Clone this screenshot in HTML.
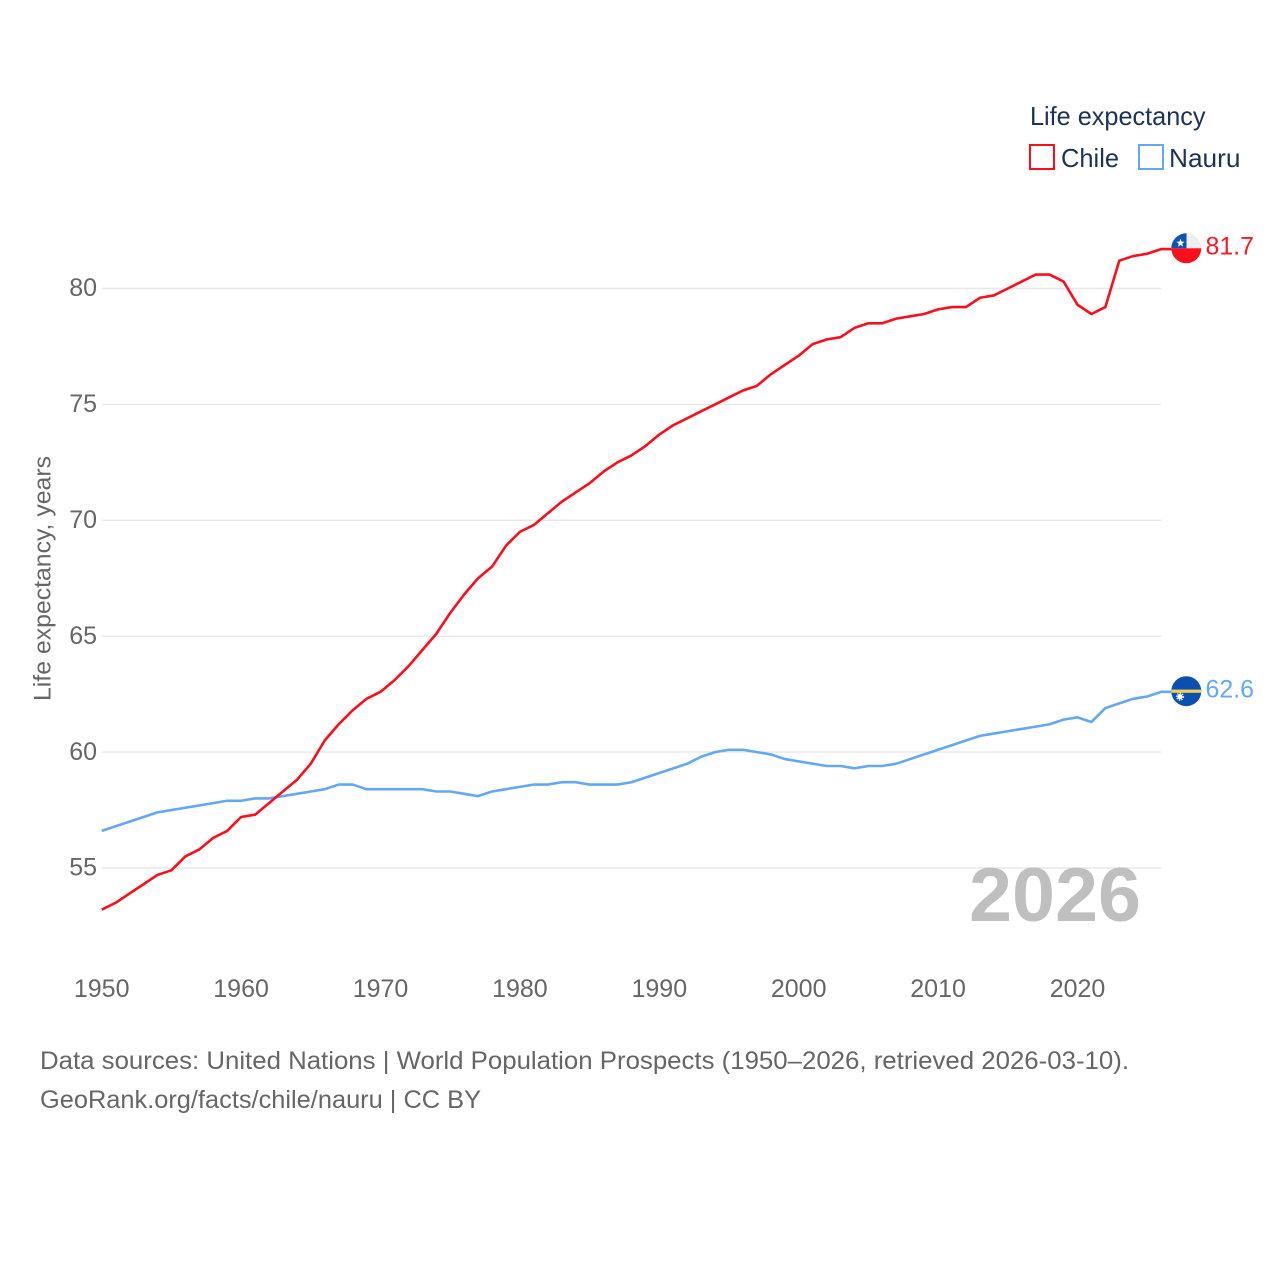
<!DOCTYPE html>
<html lang="en">
<head>
<meta charset="utf-8">
<title>Life expectancy: Chile and Nauru</title>
<style>
html,body{margin:0;padding:0;background:#fff;width:1280px;height:1280px;overflow:hidden}
svg{display:block}
text{font-family:"Liberation Sans",sans-serif}
</style>
</head>
<body>
<svg id="chart" width="1280" height="1280" viewBox="0 0 1280 1280" xmlns="http://www.w3.org/2000/svg">
  <defs>
    <clipPath id="flag-clip-chile"><circle cx="1186.3" cy="248.3" r="15"/></clipPath>
    <clipPath id="flag-clip-nauru"><circle cx="1186.3" cy="691.2" r="15"/></clipPath>
  </defs>
  <g id="grid"></g>
  <g id="yticks"></g>
  <g id="xticks"></g>
  <text transform="translate(50.5,701) rotate(-90)" font-size="24.5" fill="#666" textLength="245" lengthAdjust="spacingAndGlyphs">Life expectancy, years</text>
  <g id="series"></g>

  <g clip-path="url(#flag-clip-chile)">
    <rect x="1171" y="233" width="31" height="31" fill="#eeeeee"/>
    <rect x="1171" y="233" width="15.5" height="15.3" fill="#0b55b5"/>
    <rect x="1171" y="248.3" width="31" height="16" fill="#fb0f1c"/>
    <polygon points="1180.5,238.6 1181.6,241.6 1184.6,241.7 1182.2,243.6 1183,246.6 1180.5,244.9 1178,246.6 1178.8,243.6 1176.4,241.7 1179.4,241.6" fill="#fff"/>
  </g>
  <g clip-path="url(#flag-clip-nauru)">
    <rect x="1171" y="676" width="31" height="31" fill="#0b50b0"/>
    <rect x="1171" y="689.6" width="31" height="3.2" fill="#f5d04e"/>
    <circle cx="1180" cy="696.6" r="2.6" fill="#fff"/>
    <circle cx="1180" cy="696.6" r="3.4" fill="none" stroke="#fff" stroke-width="1.4" stroke-dasharray="1.3 1.3"/>
  </g>

  <text x="1205.5" y="254.5" font-size="25" fill="#fb1a22" textLength="48.5" lengthAdjust="spacingAndGlyphs">81.7</text>
  <text x="1205.5" y="697.5" font-size="25" fill="#63a9f2" textLength="48.5" lengthAdjust="spacingAndGlyphs">62.6</text>

  <text x="1030" y="125" font-size="26" fill="#1d3354" textLength="175.5" lengthAdjust="spacingAndGlyphs">Life expectancy</text>
  <rect x="1030" y="145" width="24" height="24" fill="none" stroke="#fb0f1c" stroke-width="2"/>
  <text x="1061" y="167" font-size="26" fill="#1d3354" textLength="58" lengthAdjust="spacingAndGlyphs">Chile</text>
  <rect x="1139" y="145" width="24" height="24" fill="none" stroke="#63a9f2" stroke-width="2"/>
  <text x="1169" y="167" font-size="26" fill="#1d3354" textLength="71.5" lengthAdjust="spacingAndGlyphs">Nauru</text>

  <text x="969" y="921" font-size="76" font-weight="700" fill="#bfbfbf" textLength="172" lengthAdjust="spacingAndGlyphs">2026</text>

  <text x="40" y="1069" font-size="25" fill="#666" textLength="1089" lengthAdjust="spacingAndGlyphs">Data sources: United Nations | World Population Prospects (1950–2026, retrieved 2026-03-10).</text>
  <text x="40" y="1108" font-size="25" fill="#666" textLength="441" lengthAdjust="spacingAndGlyphs">GeoRank.org/facts/chile/nauru | CC BY</text>
</svg>
<script>
const startYear = 1950;
const xTickYears = [1950, 1960, 1970, 1980, 1990, 2000, 2010, 2020];
const yTickValues = [55, 60, 65, 70, 75, 80];
const chileValues = [
  53.2,53.5,53.9,54.3,54.7,54.9,55.5,55.8,56.3,56.6,
  57.2,57.3,57.8,58.3,58.8,59.5,60.5,61.2,61.8,62.3,
  62.6,63.1,63.7,64.4,65.1,66.0,66.8,67.5,68.0,68.9,
  69.5,69.8,70.3,70.8,71.2,71.6,72.1,72.5,72.8,73.2,
  73.7,74.1,74.4,74.7,75.0,75.3,75.6,75.8,76.3,76.7,
  77.1,77.6,77.8,77.9,78.3,78.5,78.5,78.7,78.8,78.9,
  79.1,79.2,79.2,79.6,79.7,80.0,80.3,80.6,80.6,80.3,
  79.3,78.9,79.2,81.2,81.4,81.5,81.7
];
const nauruValues = [
  56.6,56.8,57.0,57.2,57.4,57.5,57.6,57.7,57.8,57.9,
  57.9,58.0,58.0,58.1,58.2,58.3,58.4,58.6,58.6,58.4,
  58.4,58.4,58.4,58.4,58.3,58.3,58.2,58.1,58.3,58.4,
  58.5,58.6,58.6,58.7,58.7,58.6,58.6,58.6,58.7,58.9,
  59.1,59.3,59.5,59.8,60.0,60.1,60.1,60.0,59.9,59.7,
  59.6,59.5,59.4,59.4,59.3,59.4,59.4,59.5,59.7,59.9,
  60.1,60.3,60.5,60.7,60.8,60.9,61.0,61.1,61.2,61.4,
  61.5,61.3,61.9,62.1,62.3,62.4,62.6
];

const NS = 'http://www.w3.org/2000/svg';
function xScale(year) { return 101.7 + (year - 1950) * 13.94; }
function yScale(value) { return 288.5 + (80 - value) * 23.18; }

const gridGroup = document.getElementById('grid');
const yGroup = document.getElementById('yticks');
const xGroup = document.getElementById('xticks');
const seriesGroup = document.getElementById('series');

yTickValues.forEach(function (v) {
  const line = document.createElementNS(NS, 'line');
  
  
  line.setAttribute('x1', 102);
  line.setAttribute('x2', 1161.5);
  line.setAttribute('y1', yScale(v));
  line.setAttribute('y2', yScale(v));
  line.setAttribute('stroke', '#e8e8e8');
  line.setAttribute('stroke-width', '1.4');
  gridGroup.appendChild(line);

  const label = document.createElementNS(NS, 'text');
  
  
  label.setAttribute('x', 97);
  label.setAttribute('y', yScale(v) + 7.7);
  label.setAttribute('text-anchor', 'end');
  label.setAttribute('font-size', '25');
  label.setAttribute('fill', '#666');
  label.textContent = v;
  yGroup.appendChild(label);
});

xTickYears.forEach(function (year) {
  const label = document.createElementNS(NS, 'text');
  
  
  label.setAttribute('x', xScale(year));
  label.setAttribute('y', 997);
  label.setAttribute('text-anchor', 'middle');
  label.setAttribute('font-size', '25');
  label.setAttribute('fill', '#666');
  label.textContent = year;
  xGroup.appendChild(label);
});

function buildPoints(values) {
  const pts = values.map(function (v, i) {
    return xScale(startYear + i).toFixed(2) + ',' + yScale(v).toFixed(2);
  });
  const last = values[values.length - 1];
  pts.push('1172,' + yScale(last).toFixed(2));
  return pts.join(' ');
}

const nauruLine = document.createElementNS(NS, 'polyline');


nauruLine.setAttribute('points', buildPoints(nauruValues));
nauruLine.setAttribute('fill', 'none');
nauruLine.setAttribute('stroke', '#63a9f2');
nauruLine.setAttribute('stroke-width', '2.6');
nauruLine.setAttribute('stroke-linejoin', 'round');
seriesGroup.appendChild(nauruLine);

const chileLine = document.createElementNS(NS, 'polyline');


chileLine.setAttribute('points', buildPoints(chileValues));
chileLine.setAttribute('fill', 'none');
chileLine.setAttribute('stroke', '#fb0f1c');
chileLine.setAttribute('stroke-width', '2.6');
chileLine.setAttribute('stroke-linejoin', 'round');
seriesGroup.appendChild(chileLine);
</script>
</body>
</html>
